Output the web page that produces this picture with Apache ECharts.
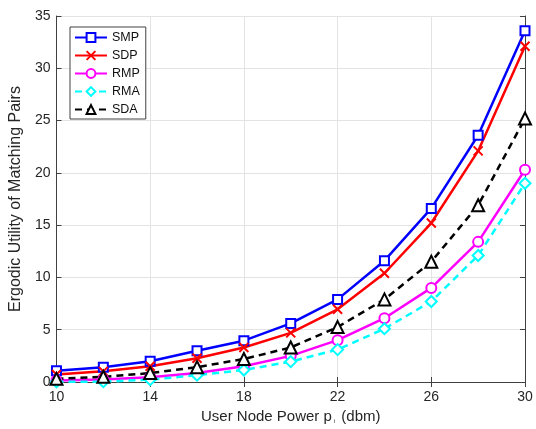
<!DOCTYPE html>
<html>
<head>
<meta charset="utf-8">
<script src="https://cdn.jsdelivr.net/npm/echarts@6/dist/echarts.min.js"></script>
<style>
  html, body { margin: 0; padding: 0; background: #fff; }
  #chart { width: 536px; height: 429px; }
</style>
</head>
<body>
<div id="chart"></div>
<script>
const powers = [10, 12, 14, 16, 18, 20, 22, 24, 26, 28, 30];
const smp = [1.08, 1.42, 1.98, 2.98, 3.95, 5.6, 7.9, 11.6, 16.6, 23.6, 33.6];
const sdp = [0.72, 1.02, 1.5, 2.27, 3.3, 4.7, 6.95, 10.4, 15.2, 22.1, 32.1];
const rmp = [0.15, 0.25, 0.45, 0.85, 1.5, 2.5, 4.0, 6.1, 9.0, 13.4, 20.3];
const rma = [0.02, 0.03, 0.22, 0.65, 1.15, 1.95, 3.1, 5.1, 7.7, 12.1, 19.0];
const sda = [0.3, 0.5, 0.85, 1.42, 2.2, 3.3, 5.25, 7.9, 11.5, 16.9, 25.2];

const pairs = (vals) => powers.map((p, i) => [p, vals[i]]);
const crossPath = "path://M0,0L10,10M10,0L0,10";
const font = "Liberation Sans, Arial, Helvetica, sans-serif";
const frame = "#404040";

const chart = echarts.init(document.getElementById("chart"), null, { renderer: "canvas" });

function line(name, vals, color, symbol, size, dashed) {
  return {
    name: name,
    type: "line",
    data: pairs(vals),
    symbol: symbol,
    symbolSize: size,
    showSymbol: true,
    lineStyle: { color: color, width: 2.5, type: dashed ? [7, 5] : "solid" },
    itemStyle: { color: color, borderColor: color, borderWidth: 2 },
    emphasis: { disabled: true },
    animation: false,
  };
}

chart.setOption({
  backgroundColor: "#fff",
  textStyle: { fontFamily: font },
  grid: { left: 56, right: 11, top: 16, bottom: 47, show: false },
  legend: {
    orient: "vertical",
    left: 70,
    top: 27,
    padding: [4, 6, 3, 4],
    itemGap: 5,
    itemWidth: 32,
    itemHeight: 11,
    borderColor: frame,
    borderWidth: 1,
    backgroundColor: "#fff",
    textStyle: { fontSize: 12.5, color: "#111", fontFamily: font },
    data: ["SMP", "SDP", "RMP", "RMA", "SDA"],
  },
  xAxis: [
    {
      type: "value",
      min: 10,
      max: 30,
      interval: 4,
      name: "User Node Power p{sub|i} (dbm)",
      nameLocation: "middle",
      nameGap: 24,
      nameTextStyle: {
        fontSize: 15,
        color: "#262626",
        fontFamily: font,
        rich: { sub: { fontSize: 6, verticalAlign: "bottom", padding: [7, 2, 0, 2], color: "#262626" } },
      },
      axisLine: { show: true, lineStyle: { color: frame, width: 1 } },
      axisTick: { show: true, inside: true, length: 5, lineStyle: { color: frame } },
      axisLabel: { fontSize: 14, color: "#262626", margin: 8 },
      splitLine: { show: true, lineStyle: { color: "#e3e3e3", width: 1 } },
    },
    {
      type: "value",
      position: "top",
      min: 10,
      max: 30,
      interval: 4,
      axisLine: { show: true, lineStyle: { color: frame, width: 1 } },
      axisTick: { show: true, inside: true, length: 5, lineStyle: { color: frame } },
      axisLabel: { show: false },
      splitLine: { show: false },
    },
  ],
  yAxis: [
    {
      type: "value",
      min: 0,
      max: 35,
      interval: 5,
      name: "Ergodic Utility of Matching Pairs",
      nameLocation: "middle",
      nameGap: 27,
      nameTextStyle: { fontSize: 16, color: "#262626", fontFamily: font },
      axisLine: { show: true, lineStyle: { color: frame, width: 1 } },
      axisTick: { show: true, inside: true, length: 5, lineStyle: { color: frame } },
      axisLabel: { fontSize: 14, color: "#262626", margin: 6 },
      splitLine: { show: true, lineStyle: { color: "#e3e3e3", width: 1 } },
    },
    {
      type: "value",
      position: "right",
      min: 0,
      max: 35,
      interval: 5,
      axisLine: { show: true, lineStyle: { color: frame, width: 1 } },
      axisTick: { show: true, inside: true, length: 5, lineStyle: { color: frame } },
      axisLabel: { show: false },
      splitLine: { show: false },
    },
  ],
  series: [
    line("SMP", smp, "#0000ff", "emptyRect", 9, false),
    line("SDP", sdp, "#ff0000", crossPath, 9, false),
    line("RMP", rmp, "#ff00ff", "emptyCircle", 10, false),
    line("RMA", rma, "#00ffff", "emptyDiamond", 11, true),
    line("SDA", sda, "#000000", "emptyTriangle", 12, true),
  ],
});
</script>
</body>
</html>
